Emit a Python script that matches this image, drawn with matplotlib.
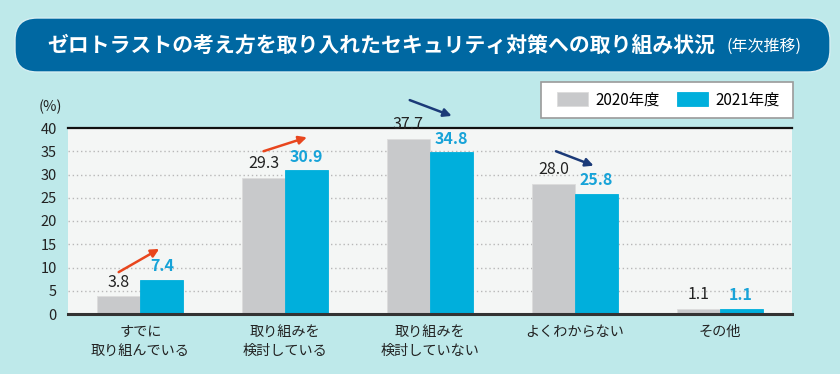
import numpy as np
import matplotlib
matplotlib.use("Agg")
import matplotlib.pyplot as plt
from matplotlib.patches import FancyBboxPatch, Rectangle
from matplotlib.transforms import IdentityTransform

plt.rcParams['font.family'] = ['Noto Sans CJK JP', 'DejaVu Sans']

# data
categories = ['すでに\n取り組んでいる', '取り組みを\n検討している', '取り組みを\n検討していない',
              'よくわからない', 'その他']
y2020 = [3.8, 29.3, 37.7, 28.0, 1.1]
y2021 = [7.4, 30.9, 34.8, 25.8, 1.1]
series_names = ['2020年度', '2021年度']
yticks = [0, 5, 10, 15, 20, 25, 30, 35, 40]

# trend arrows: (x0, y0, x1, y1, up?)
arrows = [(-0.15, 9.0, 0.13, 14.0, True),
          (0.85, 35.0, 1.15, 38.0, True),
          (1.86, 46.0, 2.15, 42.6, False),
          (2.87, 35.0, 3.13, 31.9, False)]

bg = '#bee9ea'
c_gray = '#c8c9cb'
c_blue = '#00afdc'
c_up = '#e8461e'
c_down = '#1b3a78'

fig = plt.figure(figsize=(8.4, 3.74), dpi=100, facecolor=bg)

# title banner (pixel coords)
box = FancyBboxPatch((15, 374 - 72), 815, 54, boxstyle="round,pad=0,rounding_size=22",
                     transform=IdentityTransform(), facecolor='#0068a2',
                     edgecolor='#d6eef2', linewidth=1.0)
fig.patches.append(box)
fig.text(47 / 840, 1 - 45 / 374, 'ゼロトラストの考え方を取り入れたセキュリティ対策への取り組み状況',
         color='white', fontsize=15.0, fontweight='bold', ha='left', va='center')
fig.text(802 / 840, 1 - 46 / 374, '(年次推移)', color='white', fontsize=11.5,
         ha='right', va='center')

ax = fig.add_axes([68 / 840, 60 / 374, 724 / 840, 186 / 374])
ax.set_facecolor('#f4f6f5')

x = np.arange(len(categories))
w = 0.297
ax.bar(x - w / 2, y2020, w, color=c_gray, edgecolor='#dcdcdc', linewidth=0.6,
       label=series_names[0], zorder=3)
ax.bar(x + w / 2, y2021, w, color=c_blue, edgecolor=c_blue, linewidth=0.6,
       label=series_names[1], zorder=3)

for xi, v in zip(x, y2020):
    ax.annotate(f'{v:.1f}', (xi - w / 2, v), xytext=(0, 4), textcoords='offset points',
                ha='center', va='bottom', fontsize=11.5, color='#222222')
for xi, v in zip(x, y2021):
    ax.annotate(f'{v:.1f}', (xi + w / 2, v), xytext=(0, 4), textcoords='offset points',
                ha='center', va='bottom', fontsize=11.5, color='#17a3d8', fontweight='bold')

for x0, y0, x1, y1, up in arrows:
    ax.annotate('', xy=(x1, y1), xytext=(x0, y0), annotation_clip=False,
                arrowprops=dict(arrowstyle='-|>', color=c_up if up else c_down, lw=1.8,
                                mutation_scale=12, shrinkA=0, shrinkB=0), zorder=5)

ax.set_xlim(-0.5, 4.5)
ax.set_ylim(0, 40)
ax.set_yticks(yticks)
ax.set_yticklabels([str(t) for t in yticks], fontsize=10.5, color='#222222')
ax.set_xticks(x)
ax.set_xticklabels(categories, fontsize=10.2, color='#222222', linespacing=1.45, va='top')
ax.tick_params(axis='both', length=0)
ax.tick_params(axis='x', pad=8)
ax.tick_params(axis='y', pad=8)

for y in yticks[1:-1]:
    ax.axhline(y, color='#b8b8b8', linestyle=(0, (1, 2)), linewidth=1.0, zorder=1)

for s in ['left', 'right']:
    ax.spines[s].set_visible(False)
ax.spines['top'].set_color('#111111')
ax.spines['top'].set_linewidth(1.6)
ax.spines['bottom'].set_color('#333333')
ax.spines['bottom'].set_linewidth(2.2)
ax.spines['bottom'].set_zorder(4)

ax.text(-0.024, 1.113, '(%)', transform=ax.transAxes, ha='center', va='center',
        fontsize=10.5, color='#222222')

# legend with its own frame
frame = Rectangle((0.653, 1.054), 0.348, 0.1935, transform=ax.transAxes, clip_on=False,
                  facecolor='white', edgecolor='#9a9a9a', linewidth=1.2, zorder=6)
ax.add_patch(frame)
leg = ax.legend(loc='center', bbox_to_anchor=(0.829, 1.1505), ncol=2, fontsize=11,
                frameon=False, handlelength=2.0, handleheight=1.0, handletextpad=0.5,
                columnspacing=1.15, borderpad=0, borderaxespad=0)
leg.set_zorder(7)

fig.savefig('out.png', dpi=100, facecolor=bg)
